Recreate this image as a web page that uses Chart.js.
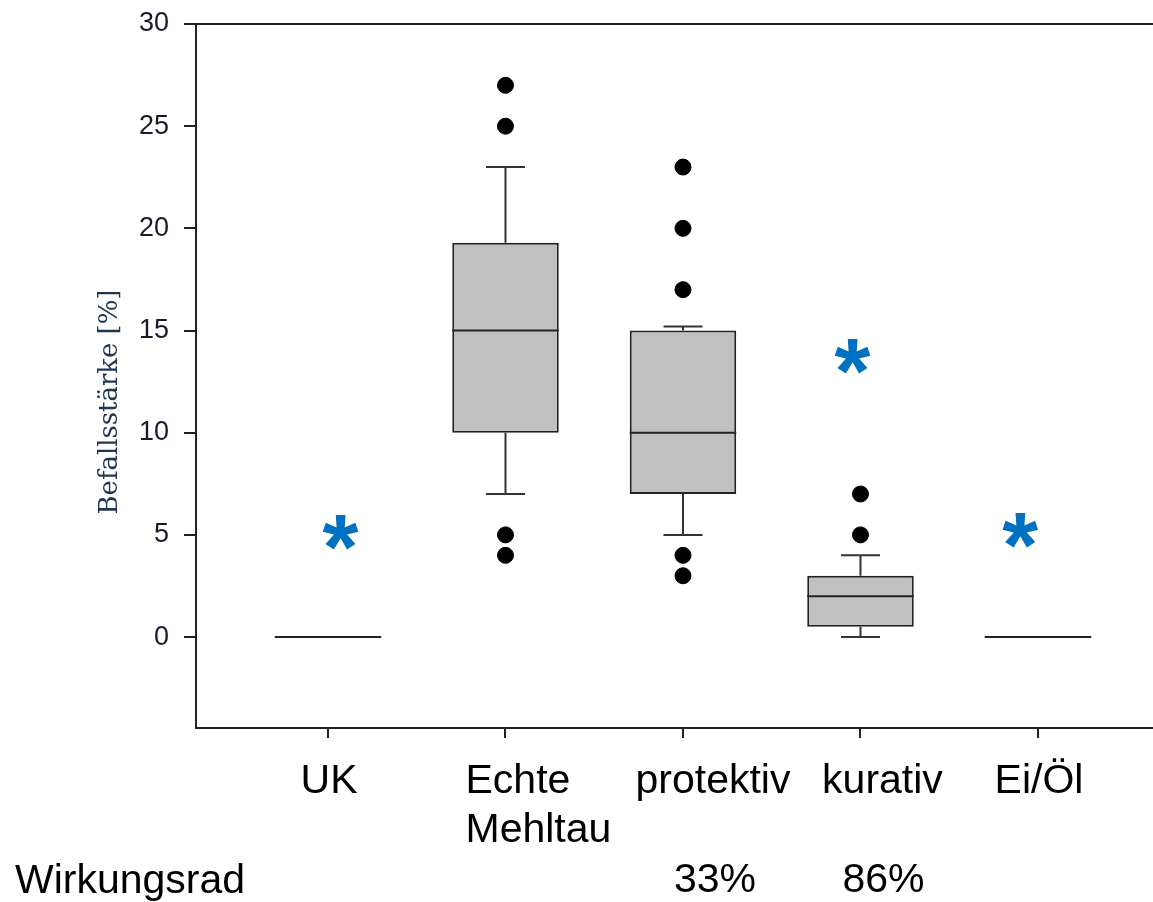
<!DOCTYPE html>
<html>
<head>
<meta charset="utf-8">
<script src="https://cdn.jsdelivr.net/npm/chart.js@4.4.0/dist/chart.umd.min.js"></script>
<style>
  html, body { margin: 0; padding: 0; background: #fff; }
  #wrap { width: 1153px; height: 902px; }
</style>
</head>
<body>
<div id="wrap"><canvas id="boxChart" width="1153" height="902"></canvas></div>
<script>
// Befallsstärke je Variante (Boxplot-Kennwerte)
const categories = ['UK', 'Echte\nMehltau', 'protektiv', 'kurativ', 'Ei/Öl'];
const q1 = [0, 10, 7, 0.5, 0];
const median = [0, 15, 10, 2, 0];
const q3 = [0, 19.3, 15, 3, 0];
const whiskerLow = [0, 7, 5, 0, 0];
const whiskerHigh = [0, 23, 15.2, 4, 0];
const outliers = [[], [27, 25, 5, 4], [23, 20, 17, 4, 3], [7, 5], []];
const efficacy = ['', '', '33%', '86%', ''];
const yTicks = [0, 5, 10, 15, 20, 25, 30];

// Signifikanz-Sternchen (Position in Achsenwerten)
const starX = [0.07, 2.955, 3.9];
const starY = [5.1, 13.75, 5.2];

const yTitle = 'Befallsstärke [%]';
const rowTitle = 'Wirkungsrad';

/* Stil / Layout */
const AXIS = '#222';
const LABEL_FONT = '41px "Liberation Sans", Arial, sans-serif';
const labelShift = [1, -40, 30, 22, 1];          // px relativ zur Tick-Position
const labelAlign = ['center', 'left', 'center', 'center', 'center'];
const effShift = [0, 0, 32, 23, 0];

const boxData = categories
  .map((c, i) => ({ x: i, y: [q1[i], q3[i]] }))
  .filter((d, i) => q1[i] !== q3[i]);

const outlierData = [];
outliers.forEach((arr, i) => arr.forEach(v => outlierData.push({ x: i, y: v })));

const boxExtras = {
  id: 'boxExtras',
  afterDatasetsDraw(chart) {
    const { ctx, scales: { x, y } } = chart;
    const gap = x.getPixelForValue(1) - x.getPixelForValue(0);
    const half = gap * 0.3;
    const cap = gap * 0.11;
    ctx.save();
    ctx.lineCap = 'butt';
    categories.forEach((c, i) => {
      const cx = x.getPixelForValue(i);
      ctx.strokeStyle = '#333';
      ctx.lineWidth = 2;
      // Whisker
      if (whiskerHigh[i] > q3[i]) {
        ctx.beginPath();
        ctx.moveTo(cx, y.getPixelForValue(q3[i]));
        ctx.lineTo(cx, y.getPixelForValue(whiskerHigh[i]));
        ctx.moveTo(cx - cap, y.getPixelForValue(whiskerHigh[i]));
        ctx.lineTo(cx + cap, y.getPixelForValue(whiskerHigh[i]));
        ctx.stroke();
      }
      if (whiskerLow[i] < q1[i]) {
        ctx.beginPath();
        ctx.moveTo(cx, y.getPixelForValue(q1[i]));
        ctx.lineTo(cx, y.getPixelForValue(whiskerLow[i]));
        ctx.moveTo(cx - cap, y.getPixelForValue(whiskerLow[i]));
        ctx.lineTo(cx + cap, y.getPixelForValue(whiskerLow[i]));
        ctx.stroke();
      }
      // Median
      ctx.strokeStyle = '#222';
      ctx.beginPath();
      ctx.moveTo(cx - half, y.getPixelForValue(median[i]));
      ctx.lineTo(cx + half, y.getPixelForValue(median[i]));
      ctx.stroke();
    });

    // Sternchen
    ctx.fillStyle = '#0070C0';
    ctx.font = 'bold 100px "Liberation Sans", Arial, sans-serif';
    let m = ctx.measureText('*');
    const size = 100 * 36 / (m.actualBoundingBoxLeft + m.actualBoundingBoxRight);
    ctx.font = `bold ${size}px "Liberation Sans", Arial, sans-serif`;
    m = ctx.measureText('*');
    ctx.textAlign = 'left';
    ctx.textBaseline = 'alphabetic';
    starX.forEach((sx, k) => {
      const px = x.getPixelForValue(sx);
      const py = y.getPixelForValue(starY[k]);
      const w = m.actualBoundingBoxLeft + m.actualBoundingBoxRight;
      const h = m.actualBoundingBoxAscent + m.actualBoundingBoxDescent;
      ctx.fillText('*', px - w / 2 + m.actualBoundingBoxLeft, py + h / 2 - m.actualBoundingBoxDescent);
    });
    ctx.restore();
  },
  afterDraw(chart) {
    const { ctx, scales: { x } } = chart;
    ctx.save();
    ctx.fillStyle = '#000';
    ctx.font = LABEL_FONT;
    ctx.textBaseline = 'alphabetic';
    categories.forEach((c, i) => {
      const px = x.getPixelForValue(i) + labelShift[i];
      ctx.textAlign = labelAlign[i];
      c.split('\n').forEach((line, j) => ctx.fillText(line, px, 793 + j * 49));
      if (efficacy[i]) {
        ctx.textAlign = 'center';
        ctx.fillText(efficacy[i], x.getPixelForValue(i) + effShift[i], 892);
      }
    });
    ctx.textAlign = 'left';
    ctx.fillText(rowTitle, 15, 893);

    // Y-Achsentitel
    ctx.fillStyle = '#1f3550';
    ctx.font = '100px "DejaVu Serif", serif';
    const fs = 100 * 225 / ctx.measureText(yTitle).width;
    ctx.font = `${fs}px "DejaVu Serif", serif`;
    ctx.translate(110, 402);
    ctx.rotate(-Math.PI / 2);
    ctx.textAlign = 'center';
    ctx.textBaseline = 'middle';
    ctx.fillText(yTitle, 0, 0);
    ctx.restore();
  }
};

new Chart(document.getElementById('boxChart'), {
  type: 'bar',
  data: {
    datasets: [
      {
        type: 'bar',
        data: boxData,
        backgroundColor: '#c0c0c0',
        borderColor: '#222',
        borderWidth: 2,
        borderSkipped: false,
        barPercentage: 0.6,
        categoryPercentage: 1.0,
      },
      {
        type: 'scatter',
        data: outlierData,
        backgroundColor: '#000',
        borderColor: '#000',
        pointRadius: 8,
        pointHoverRadius: 8,
      },
    ],
  },
  options: {
    responsive: false,
    animation: false,
    layout: { autoPadding: false, padding: { left: 88, top: 24, right: 0, bottom: 0 } },
    plugins: { legend: { display: false }, tooltip: { enabled: false } },
    scales: {
      x: {
        type: 'linear',
        offset: false,
        min: -0.7437,
        max: 4.648,
        afterBuildTicks: s => { s.ticks = categories.map((c, i) => ({ value: i })); },
        afterFit: s => { s.height = 174; s.paddingLeft = 0; s.paddingRight = 0; },
        ticks: { callback: () => '' },
        grid: { offset: false, drawOnChartArea: false, drawTicks: true, tickLength: 10, color: AXIS, lineWidth: 2 },
        border: { display: true, color: AXIS, width: 2 },
      },
      y: {
        min: -4.45,
        max: 30,
        afterBuildTicks: s => { s.ticks = yTicks.map(v => ({ value: v })); },
        afterFit: s => { s.width = 108; s.paddingTop = 0; s.paddingBottom = 0; },
        ticks: {
          padding: 15,
          color: '#1a1a2e',
          font: { family: '"Liberation Sans", Arial, sans-serif', size: 27 },
        },
        grid: {
          color: c => (c.tick && c.tick.value === 30 ? AXIS : 'rgba(0,0,0,0)'),
          tickColor: AXIS,
          tickLength: 12,
          lineWidth: 2,
        },
        border: { display: true, color: AXIS, width: 2 },
      },
    },
  },
  plugins: [boxExtras],
});
</script>
</body>
</html>
